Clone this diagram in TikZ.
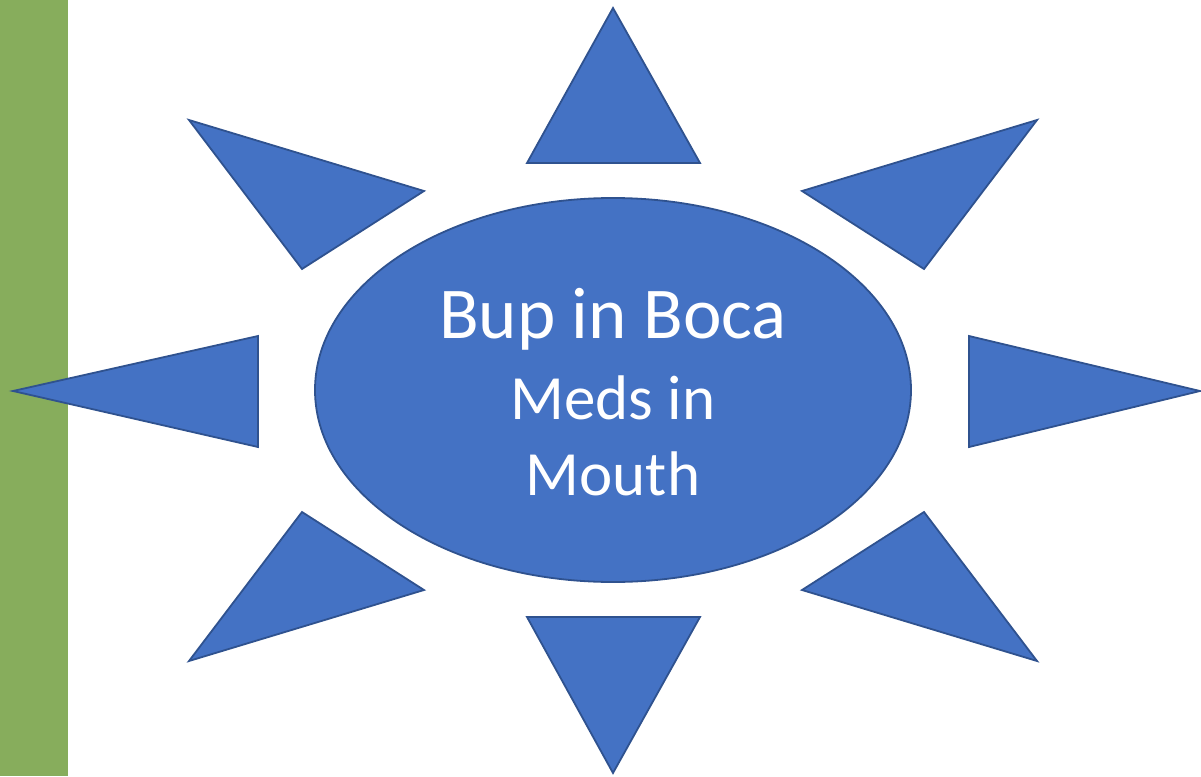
\documentclass[tikz,border=0pt]{standalone}
\usepackage{fontspec}
\setmainfont{Carlito}
\usetikzlibrary{shapes.geometric}
\definecolor{rayblue}{HTML}{4472C4}
\definecolor{rayedge}{HTML}{2F528F}
\definecolor{bargreen}{HTML}{87AD5C}
\tikzset{
  ray/.style={fill=rayblue,draw=rayedge,line width=1.8pt,line join=miter},
  core/.style={ellipse,fill=rayblue,draw=rayedge,line width=1.8pt,minimum width=596pt,minimum height=384pt,inner sep=0pt},
  bigline/.style={text=white,anchor=base,inner sep=0pt,font=\fontsize{73}{88}\selectfont},
  smallline/.style={text=white,anchor=base,inner sep=0pt,font=\fontsize{63}{76}\selectfont}
}
\begin{document}
\begin{tikzpicture}[x=1pt,y=-1pt]
\useasboundingbox (0,0) rectangle (1201,776);
\fill[bargreen] (0,0) rectangle (68,776);
\node[core] (sun) at (613,390) {};
% rays
\draw[ray] (613,8) -- (700,163) -- (527,163) -- cycle;
\draw[ray] (613,773) -- (700,617) -- (527,617) -- cycle;
\draw[ray] (13,391) -- (258,336) -- (258,447) -- cycle;
\draw[ray] (1200,391) -- (969,336) -- (969,447) -- cycle;
\draw[ray] (189,120) -- (424,191) -- (302,269) -- cycle;
\draw[ray] (1037,120) -- (802,191) -- (924,269) -- cycle;
\draw[ray] (189,661) -- (424,590) -- (302,512) -- cycle;
\draw[ray] (1037,661) -- (802,590) -- (924,512) -- cycle;
% text
\node[bigline] (title) at (613,338) {Bup in Boca};
\node[smallline] (meds) at (613,419) {Meds in};
\node[smallline] (mouth) at (613,495) {Mouth};
\end{tikzpicture}
\end{document}
